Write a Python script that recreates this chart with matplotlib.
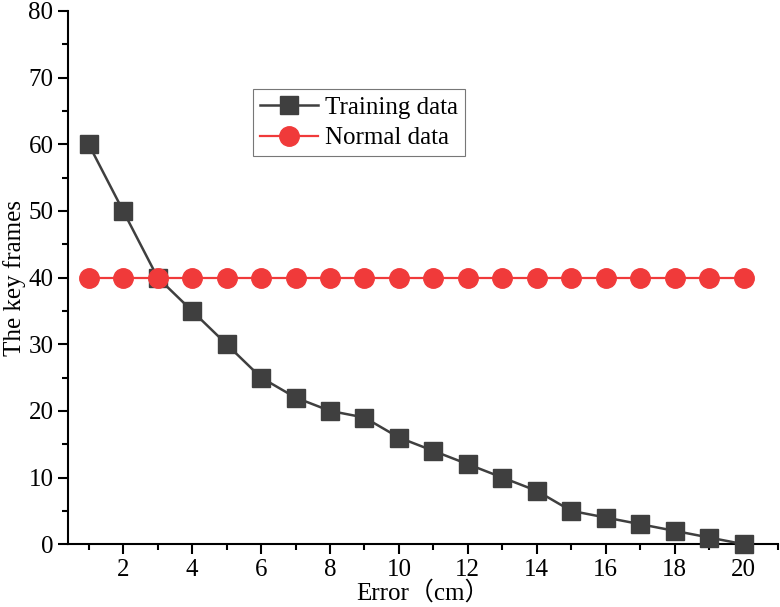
import matplotlib
matplotlib.use('Agg')
from matplotlib import pyplot as plt
from matplotlib.ticker import MultipleLocator

plt.rcParams['font.family'] = ['Liberation Serif', 'Noto Sans CJK SC']

error_cm = list(range(1, 21))
training = [60, 50, 40, 35, 30, 25, 22, 20, 19, 16, 14, 12, 10, 8, 5, 4, 3, 2, 1, 0]
normal = [40] * 20

fig = plt.figure(figsize=(7.8, 6.07), dpi=100)
ax = fig.add_axes([0.0872, 0.1035, 0.9103, 0.8784])

ax.plot(error_cm, training, color='#3f3f3f', marker='s', markersize=13,
        linewidth=1.8, label='Training data', clip_on=False, zorder=3)
ax.plot(error_cm, normal, color='#f03a3a', marker='o', markersize=14,
        linewidth=1.6, label='Normal data', clip_on=False, zorder=4)

ax.set_xlim(0.4, 21)
ax.set_ylim(0, 80)
ax.xaxis.set_major_locator(MultipleLocator(2))
ax.xaxis.set_minor_locator(MultipleLocator(1))
ax.yaxis.set_major_locator(MultipleLocator(10))
ax.yaxis.set_minor_locator(MultipleLocator(5))
ax.tick_params(which='major', direction='out', length=7, width=1.5, labelsize=18)
ax.tick_params(which='minor', direction='out', length=4, width=1.5)
for s in ['top', 'right']:
    ax.spines[s].set_visible(False)
for s in ['left', 'bottom']:
    ax.spines[s].set_linewidth(1.5)

ax.set_xlabel('Error（cm）', fontsize=18, labelpad=0)
ax.set_ylabel('The key frames', fontsize=18, labelpad=2)

leg = ax.legend(loc='upper left', bbox_to_anchor=(0.2606, 0.853), fontsize=18,
                frameon=True, fancybox=False, edgecolor='#555555',
                borderaxespad=0, handlelength=2.3, handletextpad=0.3,
                borderpad=0.28, labelspacing=0.32)
leg.get_frame().set_linewidth(0.8)

plt.savefig('out.png', dpi=100)
